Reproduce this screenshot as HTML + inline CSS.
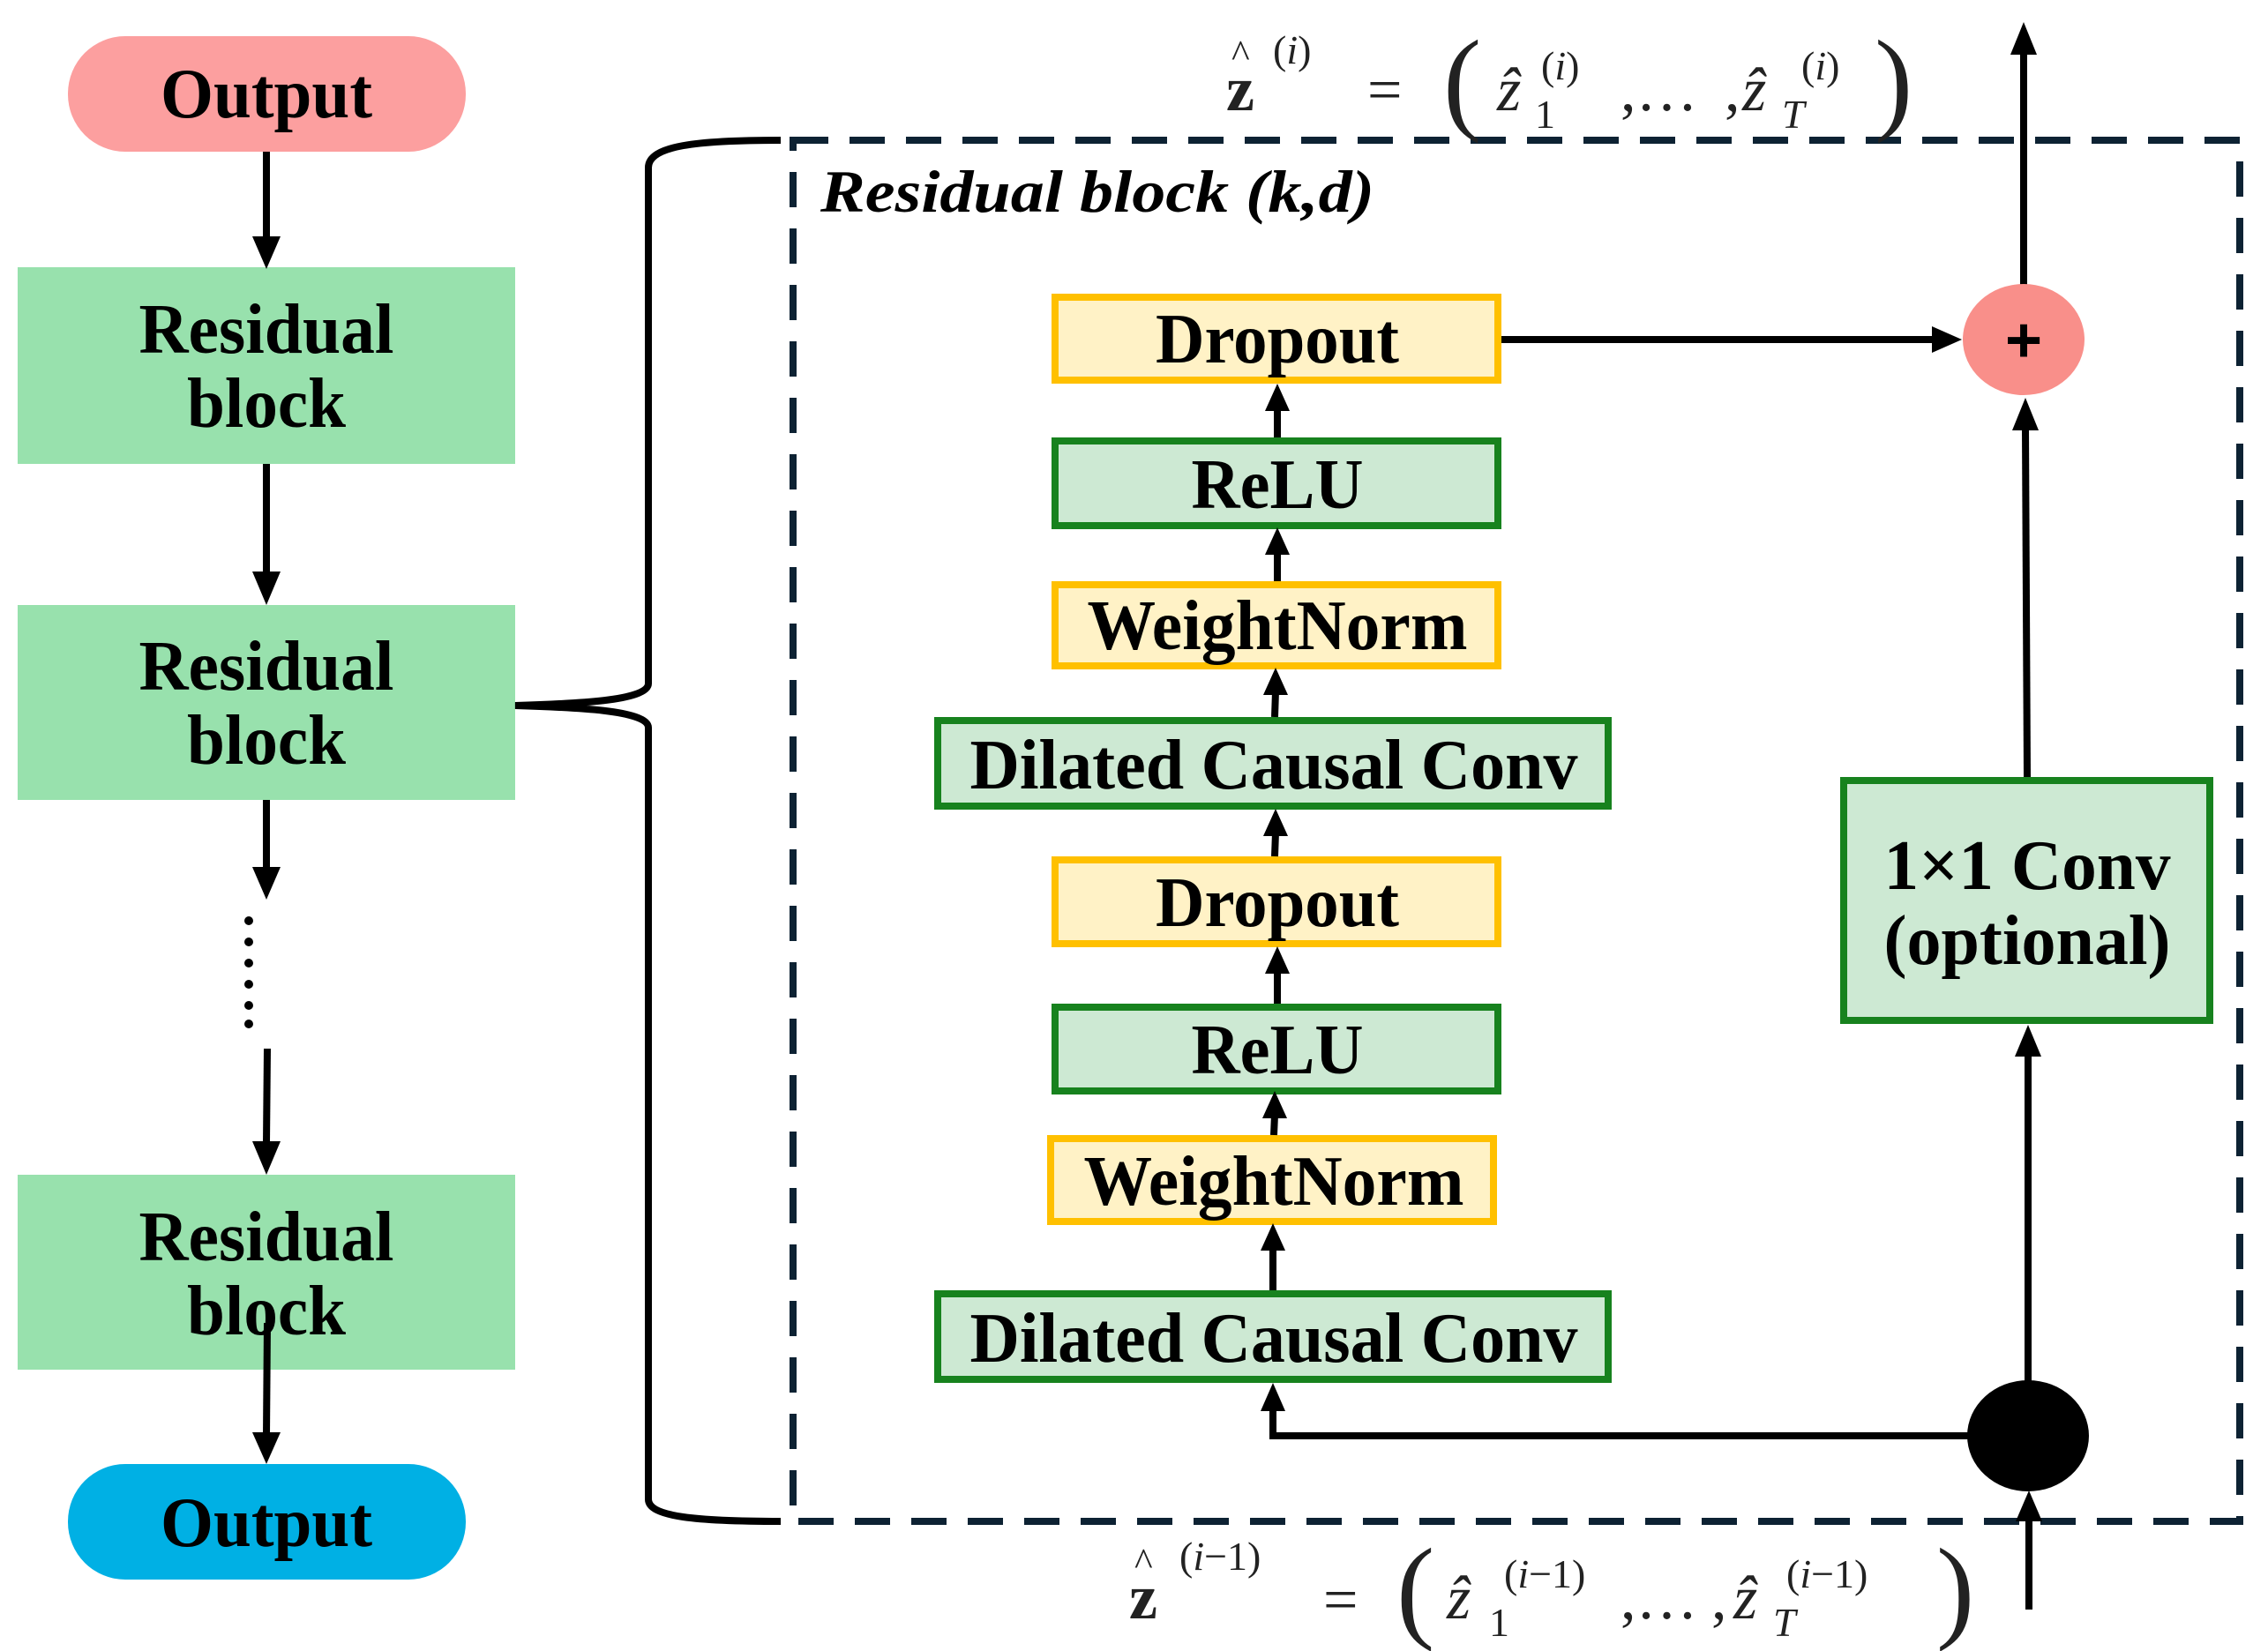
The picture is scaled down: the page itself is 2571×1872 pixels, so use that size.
<!DOCTYPE html>
<html><head><meta charset="utf-8"><style>
html,body{margin:0;padding:0;background:#fff;}
svg{display:block}
.b{font-family:"Liberation Serif",serif;font-weight:bold;fill:#000}
.m{font-family:"Liberation Serif",serif;fill:#222}
</style></head><body>
<svg width="2571" height="1872" viewBox="0 0 2571 1872" xmlns="http://www.w3.org/2000/svg">
<!-- left column -->
<rect x="77" y="41" width="451" height="131" rx="65" fill="#fc9f9f"/>
<text class="b" x="302" y="133" font-size="80" text-anchor="middle" textLength="240" lengthAdjust="spacingAndGlyphs">Output</text>
<rect x="20" y="303" width="564" height="223" fill="#98e1ad"/>
<text class="b" x="302" y="400" font-size="80" text-anchor="middle" textLength="289" lengthAdjust="spacingAndGlyphs">Residual</text>
<text class="b" x="302" y="484" font-size="80" text-anchor="middle" textLength="180" lengthAdjust="spacingAndGlyphs">block</text>
<rect x="20" y="686" width="564" height="221" fill="#98e1ad"/>
<text class="b" x="302" y="782" font-size="80" text-anchor="middle" textLength="289" lengthAdjust="spacingAndGlyphs">Residual</text>
<text class="b" x="302" y="866" font-size="80" text-anchor="middle" textLength="180" lengthAdjust="spacingAndGlyphs">block</text>
<rect x="20" y="1332" width="564" height="221" fill="#98e1ad"/>
<text class="b" x="302" y="1429" font-size="80" text-anchor="middle" textLength="289" lengthAdjust="spacingAndGlyphs">Residual</text>
<text class="b" x="302" y="1513" font-size="80" text-anchor="middle" textLength="180" lengthAdjust="spacingAndGlyphs">block</text>
<rect x="77" y="1660" width="451" height="131" rx="65" fill="#00b0e4"/>
<text class="b" x="302" y="1753" font-size="80" text-anchor="middle" textLength="240" lengthAdjust="spacingAndGlyphs">Output</text>

<g stroke="#000" stroke-width="8" fill="none">
<line x1="302" y1="172" x2="302" y2="270"/>
<line x1="302" y1="526" x2="302" y2="650"/>
<line x1="302" y1="907" x2="302" y2="985"/>
<line x1="303" y1="1189" x2="302" y2="1296"/>
<line x1="303" y1="1500" x2="302" y2="1628"/>
</g>
<g fill="#000">
<polygon points="286,268 318,268 302,305"/>
<polygon points="286,648 318,648 302,686"/>
<polygon points="286,983 318,983 302,1020"/>
<polygon points="286,1294 318,1294 302,1332"/>
<polygon points="286,1624 318,1624 302,1660"/>
<circle cx="282" cy="1044" r="5"/><circle cx="282" cy="1068" r="5"/><circle cx="282" cy="1092" r="5"/><circle cx="282" cy="1116" r="5"/><circle cx="282" cy="1140" r="5"/><circle cx="282" cy="1161" r="5"/>
</g>
<!-- brace -->
<path d="M885,159 C790,159 735,165 735,190 L735,775 C735,795 650,798 584,800 C650,802 735,805 735,825 L735,1700 C735,1720 790,1725 885,1725" stroke="#000" stroke-width="8" fill="none"/>
<!-- dashed box -->
<rect x="899" y="159" width="1640" height="1566" fill="none" stroke="#0d2233" stroke-width="8" stroke-dasharray="40 24"/>
<text class="b" x="930" y="240" font-size="68" font-style="italic" textLength="628" lengthAdjust="spacingAndGlyphs">Residual block (k,d)</text>

<!-- stack boxes -->
<g stroke-width="8">
<rect x="1196" y="337" width="502" height="94" fill="#fff2c6" stroke="#ffc000"/>
<rect x="1196" y="500" width="502" height="96" fill="#cde9d3" stroke="#17821e"/>
<rect x="1196" y="663" width="502" height="92" fill="#fff2c6" stroke="#ffc000"/>
<rect x="1063" y="817" width="760" height="97" fill="#cde9d3" stroke="#17821e"/>
<rect x="1196" y="975" width="502" height="95" fill="#fff2c6" stroke="#ffc000"/>
<rect x="1196" y="1142" width="502" height="95" fill="#cde9d3" stroke="#17821e"/>
<rect x="1191" y="1291" width="502" height="94" fill="#fff2c6" stroke="#ffc000"/>
<rect x="1063" y="1467" width="760" height="97" fill="#cde9d3" stroke="#17821e"/>
<rect x="2090" y="885" width="415" height="272" fill="#cde9d3" stroke="#17821e"/>
</g>
<g font-size="80" text-anchor="middle">
<text class="b" x="1448" y="411" textLength="276" lengthAdjust="spacingAndGlyphs">Dropout</text>
<text class="b" x="1448" y="576" textLength="195" lengthAdjust="spacingAndGlyphs">ReLU</text>
<text class="b" x="1448" y="736" textLength="431" lengthAdjust="spacingAndGlyphs">WeightNorm</text>
<text class="b" x="1444" y="894" textLength="689" lengthAdjust="spacingAndGlyphs">Dilated Causal Conv</text>
<text class="b" x="1448" y="1050" textLength="276" lengthAdjust="spacingAndGlyphs">Dropout</text>
<text class="b" x="1448" y="1217" textLength="195" lengthAdjust="spacingAndGlyphs">ReLU</text>
<text class="b" x="1444" y="1366" textLength="431" lengthAdjust="spacingAndGlyphs">WeightNorm</text>
<text class="b" x="1444" y="1544" textLength="689" lengthAdjust="spacingAndGlyphs">Dilated Causal Conv</text>
<text class="b" x="2298" y="1008" textLength="325" lengthAdjust="spacingAndGlyphs">1×1 Conv</text>
<text class="b" x="2298" y="1093" textLength="325" lengthAdjust="spacingAndGlyphs">(optional)</text>
</g>
<!-- small arrows -->
<g stroke="#000" stroke-width="8">
<line x1="1448" y1="496" x2="1448" y2="462"/>
<line x1="1448" y1="659" x2="1448" y2="625"/>
<line x1="1445" y1="813" x2="1446" y2="784"/>
<line x1="1445" y1="971" x2="1446" y2="944"/>
<line x1="1448" y1="1138" x2="1448" y2="1100"/>
<line x1="1444" y1="1287" x2="1445" y2="1264"/>
<line x1="1443" y1="1463" x2="1443" y2="1414"/>
<line x1="1702" y1="385" x2="2195" y2="385"/>
<line x1="2294" y1="323" x2="2294" y2="60"/>
<line x1="2298" y1="881" x2="2296" y2="485"/>
<line x1="2299" y1="1566" x2="2299" y2="1195"/>
<polyline points="2235,1628 1443,1628 1443,1600" fill="none"/>
<line x1="2300" y1="1825" x2="2300" y2="1720"/>
</g>
<g fill="#000">
<polygon points="1434,466 1462,466 1448,435"/>
<polygon points="1434,629 1462,629 1448,598"/>
<polygon points="1432,788 1460,788 1446,757"/>
<polygon points="1432,948 1460,948 1446,917"/>
<polygon points="1434,1104 1462,1104 1448,1073"/>
<polygon points="1431,1268 1459,1268 1445,1237"/>
<polygon points="1429,1418 1457,1418 1443,1387"/>
<polygon points="1429,1600 1457,1600 1443,1568"/>
<polygon points="2190,370 2190,400 2224,385"/>
<polygon points="2279,62 2309,62 2294,25"/>
<polygon points="2281,488 2311,488 2296,451"/>
<polygon points="2284,1198 2314,1198 2299,1162"/>
<polygon points="2285,1725 2315,1725 2300,1690"/>
</g>
<ellipse cx="2294" cy="385" rx="69" ry="63" fill="#f98f8a"/>
<text x="2294" y="410" font-family="Liberation Sans,sans-serif" font-weight="bold" font-size="72" text-anchor="middle">+</text>
<ellipse cx="2299" cy="1628" rx="69" ry="63" fill="#000"/>

<!-- formulas -->
<g class="m">
<text x="1390" y="125" font-size="72" font-weight="bold">z</text>
<text x="1396" y="76" font-size="44">^</text>
<text x="1443" y="72" font-size="46">(<tspan font-style="italic">i</tspan>)</text>
<text x="1550" y="125" font-size="70">=</text>
<text x="1636" y="135" font-size="130">(</text>
<text x="1697" y="125" font-size="70" font-style="italic">ẑ</text>
<text x="1740" y="145" font-size="46">1</text>
<text x="1747" y="90" font-size="46">(<tspan font-style="italic">i</tspan>)</text>
<text x="1837" y="125" font-size="70">,…</text>
<text x="1955" y="125" font-size="70">,</text>
<text x="1975" y="125" font-size="70" font-style="italic">ẑ</text>
<text x="2020" y="145" font-size="46" font-style="italic">T</text>
<text x="2042" y="90" font-size="46">(<tspan font-style="italic">i</tspan>)</text>
<text x="2125" y="135" font-size="130">)</text>

<text x="1280" y="1835" font-size="72" font-weight="bold">z</text>
<text x="1286" y="1786" font-size="44">^</text>
<text x="1337" y="1780" font-size="46">(<tspan font-style="italic">i</tspan>−1)</text>
<text x="1500" y="1837" font-size="70">=</text>
<text x="1583" y="1845" font-size="130">(</text>
<text x="1640" y="1835" font-size="70" font-style="italic">ẑ</text>
<text x="1688" y="1855" font-size="46">1</text>
<text x="1705" y="1800" font-size="46">(<tspan font-style="italic">i</tspan>−1)</text>
<text x="1837" y="1835" font-size="70">,…</text>
<text x="1940" y="1835" font-size="70">,</text>
<text x="1965" y="1835" font-size="70" font-style="italic">ẑ</text>
<text x="2010" y="1855" font-size="46" font-style="italic">T</text>
<text x="2025" y="1800" font-size="46">(<tspan font-style="italic">i</tspan>−1)</text>
<text x="2195" y="1845" font-size="130">)</text>
</g>
</svg>
</body></html>
